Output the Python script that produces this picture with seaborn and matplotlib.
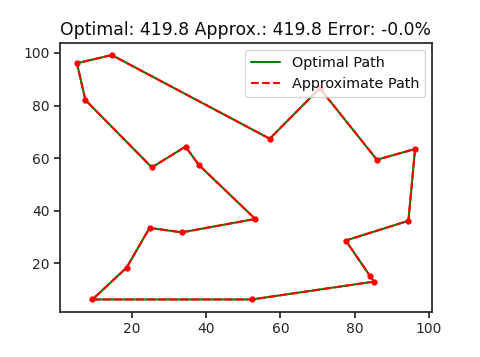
import numpy as np
import pandas as pd
import matplotlib
matplotlib.use('Agg')
import matplotlib.pyplot as plt
import seaborn as sns

# city coordinates
city_x = [14.5, 5.1, 7.4, 25.3, 34.4, 38.0, 53.2, 33.4, 24.7, 18.5,
          9.3, 52.3, 85.3, 84.1, 77.6, 94.5, 96.3, 86.0, 70.6, 57.1]
city_y = [99.2, 96.1, 82.1, 56.5, 64.4, 57.4, 36.9, 31.8, 33.5, 18.4,
          6.3, 6.3, 13.1, 15.3, 28.7, 36.2, 63.5, 59.4, 86.6, 67.4]

optimal_tour = [0, 1, 2, 3, 4, 5, 6, 7, 8, 9, 10, 11, 12, 13, 14, 15, 16, 17, 18, 19, 0]
approx_tour = [0, 1, 2, 3, 4, 5, 6, 7, 8, 9, 10, 11, 12, 13, 14, 15, 16, 17, 18, 19, 0]

optimal_len = 419.8
approx_len = 419.8
error_pct = -0.0

sns.set_style('ticks', {'axes.edgecolor': '.15', 'xtick.color': '.15', 'ytick.color': '.15'})
plt.rcParams['font.family'] = ['DejaVu Sans']
plt.rcParams['text.color'] = '0.05'
plt.rcParams['axes.linewidth'] = 1.25
plt.rcParams['xtick.major.width'] = 1.25
plt.rcParams['ytick.major.width'] = 1.25
plt.rcParams['xtick.major.size'] = 4
plt.rcParams['ytick.major.size'] = 4

df_opt = pd.DataFrame({'x': [city_x[i] for i in optimal_tour],
                       'y': [city_y[i] for i in optimal_tour]})
df_apx = pd.DataFrame({'x': [city_x[i] for i in approx_tour],
                       'y': [city_y[i] for i in approx_tour]})

fig, ax = plt.subplots(figsize=(4.8, 3.57), dpi=100)
fig.subplots_adjust(left=0.125, right=0.9, top=0.88, bottom=0.127)

sns.lineplot(data=df_opt, x='x', y='y', sort=False, estimator=None,
             color='green', linestyle='-', linewidth=1.5, label='Optimal Path', ax=ax)
sns.lineplot(data=df_apx, x='x', y='y', sort=False, estimator=None,
             color='red', linestyle='--', linewidth=1.5, label='Approximate Path', ax=ax)
ax.plot(city_x, city_y, 'o', color='red', markersize=3.5, zorder=3)

ax.set_xlabel('')
ax.set_ylabel('')
ax.set_title(f'Optimal: {optimal_len:.1f} Approx.: {approx_len:.1f} Error: {error_pct:.1f}%',
             fontsize=12.4)
ax.legend(loc='upper right', fontsize=10.4)

plt.savefig('out.png', dpi=100)
